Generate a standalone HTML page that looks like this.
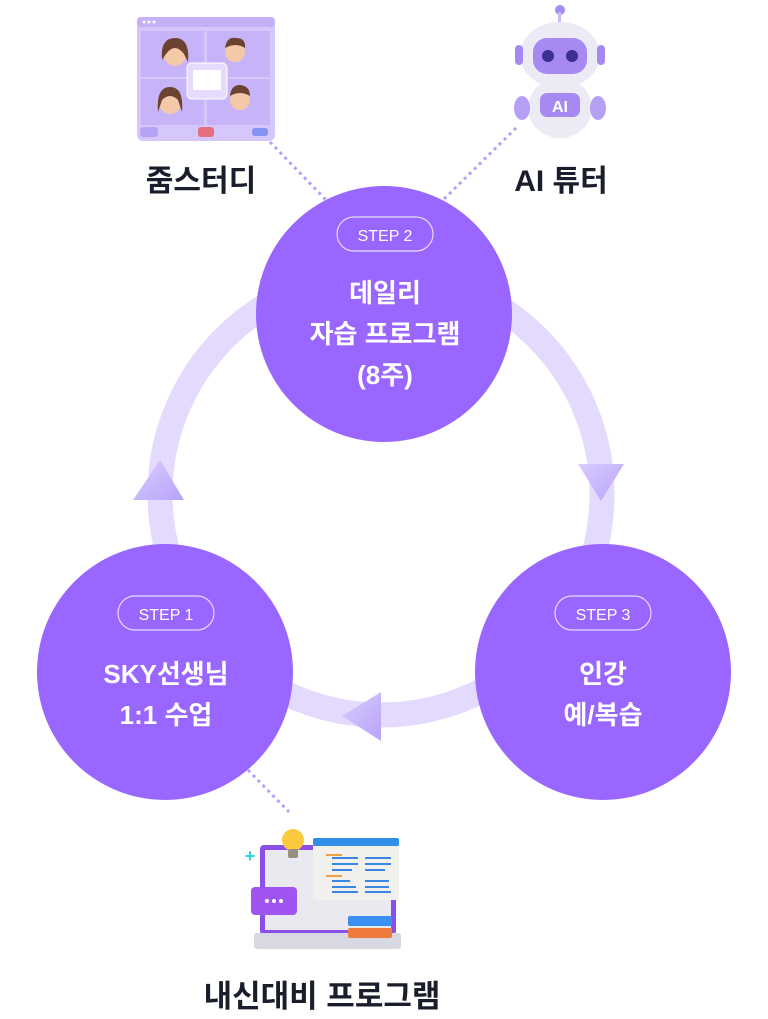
<!DOCTYPE html>
<html><head><meta charset="utf-8"><style>
html,body{margin:0;padding:0;background:#fff;}
svg{display:block;}
text{font-family:"Liberation Sans","Noto Sans CJK KR",sans-serif;}
</style></head><body>
<svg width="768" height="1019" viewBox="0 0 768 1019" xmlns="http://www.w3.org/2000/svg">
<defs>
<linearGradient id="ar" x1="0" y1="0" x2="1" y2="1"><stop offset="0" stop-color="#d9ccfd"/><stop offset="1" stop-color="#b9a3fa"/></linearGradient>
</defs>
<circle cx="381" cy="494" r="221" fill="none" stroke="#e3dafd" stroke-width="25"/>
<polygon points="160,460 133,500 184,500" fill="url(#ar)"/>
<polygon points="578,464 624,464 601,501" fill="url(#ar)"/>
<polygon points="342,716 381,692 381,741" fill="url(#ar)"/>
<g stroke="#b99cfb" stroke-width="3" stroke-dasharray="3 4" fill="none">
<line x1="270" y1="142" x2="326" y2="200"/>
<line x1="516" y1="128" x2="443" y2="200"/>
<line x1="248" y1="770" x2="289" y2="812"/>
</g>
<circle cx="384" cy="314" r="128" fill="#9966ff"/>
<circle cx="165" cy="672" r="128" fill="#9966ff"/>
<circle cx="603" cy="672" r="128" fill="#9966ff"/>
<rect x="337" y="217" width="96" height="34" rx="17" fill="none" stroke="#e6dcff" stroke-width="1.2"/>
<text x="385" y="241" text-anchor="middle" fill="#fff" font-size="16">STEP 2</text>
<rect x="118" y="596" width="96" height="34" rx="17" fill="none" stroke="#e6dcff" stroke-width="1.2"/>
<text x="166" y="620" text-anchor="middle" fill="#fff" font-size="16">STEP 1</text>
<rect x="555" y="596" width="96" height="34" rx="17" fill="none" stroke="#e6dcff" stroke-width="1.2"/>
<text x="603" y="620" text-anchor="middle" fill="#fff" font-size="16">STEP 3</text>
<g fill="#fff" font-size="26" font-weight="bold" text-anchor="middle">
<text x="385" y="302">데일리</text>
<text x="385" y="343">자습 프로그램</text>
<text x="385" y="384">(8주)</text>
<text x="166" y="683">SKY선생님</text>
<text x="166" y="724">1:1 수업</text>
<text x="603" y="683">인강</text>
<text x="603" y="724">예/복습</text>
</g>
<g fill="#1a1d2b" font-weight="bold" text-anchor="middle">
<text x="201" y="191" font-size="30">줌스터디</text>
<text x="561" y="191" font-size="30">AI 튜터</text>
<text x="322" y="1007" font-size="31">내신대비 프로그램</text>
</g>
<rect x="137" y="17" width="138" height="124" rx="6" fill="#d5c7fb"/>
<rect x="137" y="17" width="138" height="10" rx="4" fill="#c3b0f7"/>
<circle cx="144" cy="22" r="1.5" fill="#fff"/><circle cx="149" cy="22" r="1.5" fill="#fff"/><circle cx="154" cy="22" r="1.5" fill="#fff"/>
<rect x="141" y="31" width="63" height="46" fill="#c6b3f8"/>
<rect x="207" y="31" width="63" height="46" fill="#c6b3f8"/>
<rect x="141" y="79" width="63" height="46" fill="#c6b3f8"/>
<rect x="207" y="79" width="63" height="46" fill="#c6b3f8"/>
<g fill="#f3c9a8"><circle cx="175" cy="55" r="11"/><circle cx="235" cy="52" r="10"/><circle cx="170" cy="103" r="11"/><circle cx="240" cy="100" r="10"/></g>
<g fill="#6b4330"><path d="M162 60 Q160 38 175 38 Q190 38 188 62 L184 54 Q175 42 166 54Z"/><path d="M225 48 Q227 36 236 38 Q246 38 245 48 Q236 42 225 48Z"/><path d="M158 112 Q156 87 170 87 Q184 87 182 112 L178 100 Q170 92 162 100Z"/><path d="M230 96 Q231 85 240 85 Q250 86 250 96 Q240 90 230 96Z"/></g>
<rect x="187" y="63" width="40" height="36" rx="5" fill="#e5dcfd" stroke="#fff"/>
<rect x="193" y="70" width="28" height="20" fill="#fff"/>
<rect x="140" y="127" width="18" height="10" rx="3" fill="#b5a2f5"/>
<rect x="198" y="127" width="16" height="10" rx="3" fill="#e66e7e"/>
<rect x="252" y="128" width="16" height="8" rx="3" fill="#8394ee"/>
<circle cx="560" cy="10" r="5" fill="#a58bf4"/>
<rect x="558" y="12" width="3" height="10" fill="#c9bbf8"/>
<ellipse cx="560" cy="55" rx="40" ry="33" fill="#eceaf4"/>
<rect x="533" y="38" width="54" height="36" rx="14" fill="#a68af2"/>
<circle cx="548" cy="56" r="6" fill="#3d2f8c"/><circle cx="572" cy="56" r="6" fill="#3d2f8c"/>
<rect x="515" y="45" width="8" height="20" rx="4" fill="#a68af2"/><rect x="597" y="45" width="8" height="20" rx="4" fill="#a68af2"/>
<ellipse cx="560" cy="108" rx="32" ry="30" fill="#eceaf4"/>
<rect x="540" y="93" width="40" height="24" rx="7" fill="#a68af2"/>
<text x="560" y="112" text-anchor="middle" fill="#fff" font-size="16" font-weight="bold">AI</text>
<ellipse cx="522" cy="108" rx="8" ry="12" fill="#b5a0f6"/><ellipse cx="598" cy="108" rx="8" ry="12" fill="#b5a0f6"/>
<rect x="260" y="845" width="136" height="90" rx="4" fill="#8a4fe8"/>
<rect x="265" y="850" width="126" height="80" fill="#ebe9f0"/>
<rect x="254" y="933" width="147" height="16" rx="3" fill="#d8d8e2"/>
<rect x="313" y="838" width="86" height="62" rx="3" fill="#f2f0ec"/>
<rect x="313" y="838" width="86" height="8" rx="2" fill="#2f8ee8"/>
<g fill="#3a86e0"><rect x="332" y="857" width="26" height="2"/><rect x="365" y="857" width="26" height="2"/><rect x="332" y="863" width="26" height="2"/><rect x="365" y="863" width="26" height="2"/><rect x="332" y="869" width="20" height="2"/><rect x="365" y="869" width="20" height="2"/><rect x="332" y="880" width="18" height="2"/><rect x="365" y="880" width="24" height="2"/><rect x="332" y="886" width="24" height="2"/><rect x="365" y="886" width="24" height="2"/><rect x="332" y="891" width="26" height="2"/><rect x="365" y="891" width="26" height="2"/></g>
<rect x="326" y="854" width="16" height="2" fill="#f0a040"/><rect x="326" y="875" width="16" height="2" fill="#f0a040"/>
<rect x="251" y="887" width="46" height="28" rx="4" fill="#a054f2"/>
<circle cx="267" cy="901" r="2" fill="#fff"/><circle cx="274" cy="901" r="2" fill="#fff"/><circle cx="281" cy="901" r="2" fill="#fff"/>
<rect x="348" y="916" width="44" height="10" rx="2" fill="#3b8ff0"/>
<rect x="348" y="928" width="44" height="10" rx="2" fill="#f07a3a"/>
<circle cx="293" cy="840" r="11" fill="#fbc93d"/>
<rect x="288" y="849" width="10" height="9" rx="2" fill="#9a8e80"/>
<text x="250" y="862" fill="#2dd4d8" font-size="18" font-weight="bold" text-anchor="middle">+</text>
</svg>
</body></html>
